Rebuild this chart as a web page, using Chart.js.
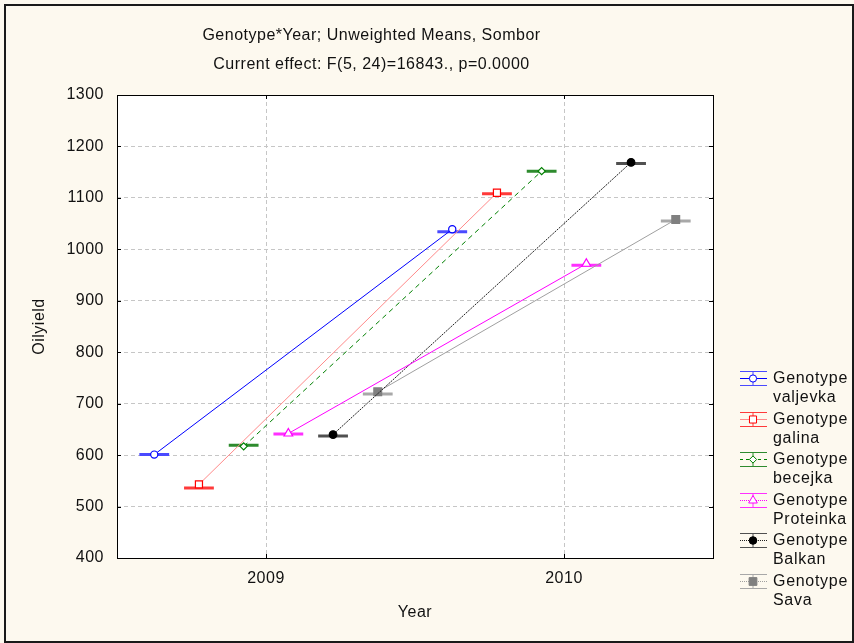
<!DOCTYPE html>
<html>
<head>
<meta charset="utf-8">
<script src="https://cdn.jsdelivr.net/npm/chart.js"></script>
<style>
html,body{margin:0;padding:0;background:#fdf9ef;}
#wrap{width:854px;height:643px;}
</style>
</head>
<body>
<div id="wrap"><canvas id="chart" width="854" height="643"></canvas></div>
<script>
const YEARS = ['2009', '2010'];
const GENOTYPES = ['valjevka', 'galina', 'becejka', 'Proteinka', 'Balkan', 'Sava'];
// unweighted means (marker) per year
const MEAN_2009 = [601, 543, 617, 642, 640, 723];
const MEAN_2010 = [1039, 1110, 1152, 972, 1169, 1058];
// whisker (cap) level per year
const CAP_2009 = [601, 536, 619, 641, 637, 719];
const CAP_2010 = [1034, 1108, 1152, 969, 1167, 1055];
const TITLE = ['Genotype*Year; Unweighted Means, Sombor', 'Current effect: F(5, 24)=16843., p=0.0000'];

const FONT = "'Liberation Sans', Arial, sans-serif";
const INK = '#111';
const GRID = '#c6c6c6';
const CAP_W = 0.05;
const SPACING = '0.5px';

const STYLES = [
  { line:'#0000ff', cap:'#4a4aff', dash:[],    shape:'circle',   r:3.6, fill:'#ffffff', stroke:'#0000ff', legDash:[] },
  { line:'#ff8a8a', cap:'#ff3a3a', dash:[],    shape:'rect',     r:5,   fill:'#ffffff', stroke:'#ff0000', legDash:[] },
  { line:'#008000', cap:'#2e8b2e', dash:[5,4], shape:'rectRot',  r:3.6, fill:'#ffffff', stroke:'#008000', legDash:[3,3] },
  { line:'#ff00ff', cap:'#ff30ff', dash:[],    shape:'triangle', r:5,   fill:'#ffffff', stroke:'#ff00ff', legDash:[1,1] },
  { line:'#202020', cap:'#505050', dash:[2,1], shape:'circle',   r:3.8, fill:'#000000', stroke:'#000000', legDash:[1,1] },
  { line:'#a0a0a0', cap:'#a8a8a8', dash:[],    shape:'rect',     r:5.5, fill:'#808080', stroke:'#808080', legDash:[1,1] },
];

function dodge(i){ return (i - (GENOTYPES.length - 1) / 2) * 0.15; }

const datasets = [];
GENOTYPES.forEach((g, i) => {
  const s = STYLES[i], d = dodge(i);
  datasets.push({
    label: 'Genotype ' + g,
    data: [{x: d, y: MEAN_2009[i]}, {x: 1 + d, y: MEAN_2010[i]}],
    borderColor: s.line, borderWidth: 1, borderDash: s.dash,
    pointStyle: s.shape, pointRadius: s.r, pointBorderWidth: 1.2,
    pointBackgroundColor: s.fill, pointBorderColor: s.stroke,
    order: 1
  });
  datasets.push({
    label: 'cap ' + g,
    data: [
      {x: d - CAP_W, y: CAP_2009[i]}, {x: d + CAP_W, y: CAP_2009[i]},
      {x: 0.5, y: null},
      {x: 1 + d - CAP_W, y: CAP_2010[i]}, {x: 1 + d + CAP_W, y: CAP_2010[i]}
    ],
    borderColor: s.cap, borderWidth: 3, pointRadius: 0, spanGaps: false,
    order: 2
  });
});

const frame = {
  id: 'frame',
  beforeLayout(chart){ chart.ctx.letterSpacing = SPACING; },
  beforeDraw(chart){
    const ctx = chart.ctx;
    ctx.letterSpacing = SPACING;
    ctx.save();
    ctx.fillStyle = '#fdf9ef';
    ctx.fillRect(0, 0, chart.width, chart.height);
    ctx.strokeStyle = '#1a1a1a';
    ctx.lineWidth = 2;
    ctx.strokeRect(5, 5, chart.width - 6, chart.height - 6);
    const a = chart.chartArea;
    ctx.fillStyle = '#ffffff';
    ctx.fillRect(a.left, a.top, a.right - a.left, a.bottom - a.top);
    ctx.restore();
  },
  beforeDatasetsDraw(chart){
    const ctx = chart.ctx, a = chart.chartArea;
    const xs = chart.scales.x, ys = chart.scales.y;
    ctx.save();
    ctx.strokeStyle = '#000';
    ctx.lineWidth = 1;
    ctx.strokeRect(Math.round(a.left) + 0.5, Math.round(a.top) + 0.5, Math.round(a.right - a.left), Math.round(a.bottom - a.top));
    ctx.beginPath();
    ys.ticks.forEach(t => {
      const y = Math.round(ys.getPixelForValue(t.value)) + 0.5;
      ctx.moveTo(a.left, y); ctx.lineTo(a.left + 4, y);
      ctx.moveTo(a.right - 4, y); ctx.lineTo(a.right, y);
    });
    xs.ticks.forEach(t => {
      const x = Math.round(xs.getPixelForValue(t.value)) + 0.5;
      ctx.moveTo(x, a.bottom); ctx.lineTo(x, a.bottom - 4);
      ctx.moveTo(x, a.top); ctx.lineTo(x, a.top + 4);
    });
    ctx.stroke();
    ctx.restore();
  }
};

const legendBox = {
  id: 'legendBox',
  afterDraw(chart){
    const ctx = chart.ctx;
    const x0 = 740, x1 = 767, xm = 753, tx = 773;
    ctx.save();
    GENOTYPES.forEach((g, i) => {
      const s = STYLES[i];
      const cy = Math.round(378 + i * 40.5) + 0.5;
      ctx.lineWidth = 1;
      ctx.strokeStyle = s.cap;
      ctx.setLineDash([]);
      ctx.beginPath();
      ctx.moveTo(x0, cy - 7); ctx.lineTo(x1, cy - 7);
      ctx.moveTo(x0, cy + 7); ctx.lineTo(x1, cy + 7);
      ctx.moveTo(xm, cy - 7); ctx.lineTo(xm, cy + 7);
      ctx.stroke();
      ctx.strokeStyle = s.line;
      ctx.setLineDash(s.legDash);
      ctx.beginPath();
      ctx.moveTo(x0, cy); ctx.lineTo(x1, cy);
      ctx.stroke();
      ctx.setLineDash([]);
      ctx.fillStyle = s.fill;
      ctx.strokeStyle = s.stroke;
      Chart.helpers.drawPoint(ctx, {pointStyle: s.shape, radius: s.r, borderWidth: 1.2, rotation: 0}, xm, cy);
      ctx.fillStyle = INK;
      ctx.font = '16px ' + FONT;
      ctx.letterSpacing = '0.7px';
      ctx.textAlign = 'left';
      ctx.textBaseline = 'middle';
      ctx.fillText('Genotype', tx, cy);
      ctx.fillText(g, tx, cy + 19);
    });
    ctx.restore();
  }
};

new Chart(document.getElementById('chart'), {
  type: 'line',
  data: { datasets },
  plugins: [frame, legendBox],
  options: {
    responsive: false,
    animation: false,
    events: [],
    layout: { padding: { left: 30, right: 141, top: 6, bottom: 21 } },
    plugins: {
      legend: { display: false },
      tooltip: { enabled: false },
      title: {
        display: true, text: TITLE, color: INK,
        font: { family: FONT, size: 16, weight: 'normal', lineHeight: 29 / 16 },
        padding: { top: 15, bottom: 16 }
      }
    },
    scales: {
      x: {
        type: 'linear', min: -0.5, max: 1.5,
        afterBuildTicks: s => { s.ticks = YEARS.map((_, i) => ({ value: i })); },
        afterFit: s => { s.height = 64; },
        ticks: { callback: v => YEARS[v], color: INK, font: { family: FONT, size: 16 }, padding: 11, maxRotation: 0 },
        grid: { color: GRID, drawTicks: false },
        border: { display: false, dash: [4, 3] },
        title: { display: true, text: 'Year', color: INK, font: { family: FONT, size: 16 }, padding: 0 }
      },
      y: {
        min: 400, max: 1300,
        afterFit: s => { s.width = 87; },
        ticks: { stepSize: 100, callback: v => String(v), color: INK, font: { family: FONT, size: 16 }, padding: 13 },
        grid: { color: GRID, drawTicks: false },
        border: { display: false, dash: [4, 3] },
        title: { display: true, text: 'Oilyield', color: INK, font: { family: FONT, size: 16 }, padding: 0 }
      }
    }
  }
});
</script>
</body>
</html>
